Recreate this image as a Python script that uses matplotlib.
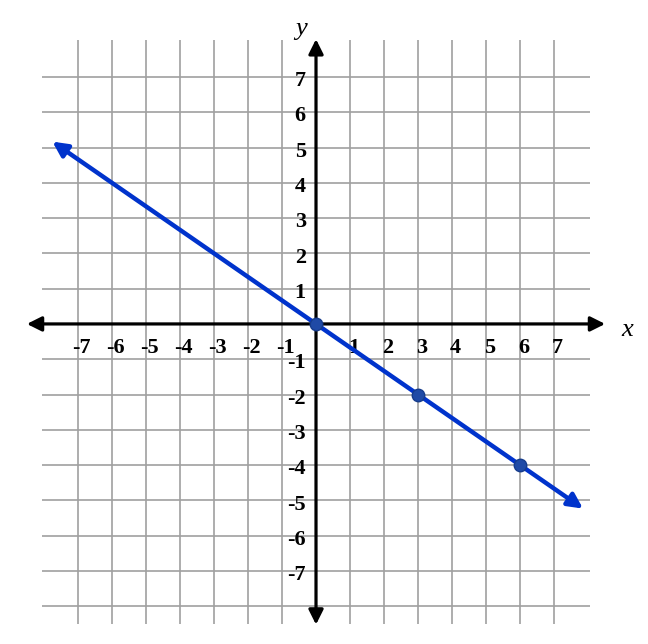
import matplotlib
matplotlib.use("Agg")
import matplotlib.pyplot as plt
import numpy as np

# ticks shown on the axes
x_ticks = [-7, -6, -5, -4, -3, -2, -1, 1, 2, 3, 4, 5, 6, 7]
y_ticks = [7, 6, 5, 4, 3, 2, 1, -1, -2, -3, -4, -5, -6, -7]

# grid extent
grid_x = list(range(-7, 8))
grid_y = list(range(-8, 8))

# plotted points and line ends
pts_x = [0, 3, 6]
pts_y = [0, -2, -4]
line_x = [-7.75, 7.85]

BLUE = "#0033cc"
GRID = "#a0a0a0"
font = dict(family="Liberation Serif", weight="bold", fontsize=16)

fig = plt.figure(figsize=(6.48, 6.44), dpi=100)
ax = fig.add_axes([0, 0, 1, 1])
ax.set_xlim(-9.29, 9.76)
ax.set_ylim(-9.07, 9.18)
ax.axis("off")

# grid
for gx in grid_x:
    if gx != 0:
        ax.vlines(gx, -8.5, 8.05, color=GRID, lw=1.2, zorder=1)
for gy in grid_y:
    if gy != 0:
        ax.hlines(gy, -8.05, 8.05, color=GRID, lw=1.2, zorder=1)

# axes with arrows
ax.annotate("", xy=(8.5, 0), xytext=(-8.5, 0),
            arrowprops=dict(arrowstyle="<|-|>", color="black", lw=2.3,
                            mutation_scale=22, shrinkA=0, shrinkB=0), zorder=2)
ax.annotate("", xy=(0, 8.07), xytext=(0, -8.52),
            arrowprops=dict(arrowstyle="<|-|>", color="black", lw=2.3,
                            mutation_scale=22, shrinkA=0, shrinkB=0), zorder=2)

# tick labels
for t in x_ticks:
    ax.text(t + 0.1, -0.68, str(t), ha="center", va="center", **font)
for t in y_ticks:
    ax.text(-0.3, t - 0.12, str(t), ha="right", va="center", **font)

ax.text(9.15, -0.18, "x", ha="center", va="center", family="Liberation Serif",
        style="italic", fontsize=19)
ax.text(-0.45, 8.35, "y", ha="center", va="center", family="Liberation Serif",
        style="italic", fontsize=19)

# line through the points
slope = (pts_y[-1] - pts_y[0]) / (pts_x[-1] - pts_x[0])
ly = [pts_y[0] + slope * (v - pts_x[0]) for v in line_x]
ax.annotate("", xy=(line_x[1], ly[1]), xytext=(line_x[0], ly[0]),
            arrowprops=dict(arrowstyle="<|-|>", color=BLUE, lw=3.2,
                            mutation_scale=22, shrinkA=0, shrinkB=0), zorder=3)
ax.plot(pts_x, pts_y, "o", ms=9, color="#1f4aa6", mec="#163c8c", mew=1, zorder=4)

fig.savefig("out.png", dpi=100)
